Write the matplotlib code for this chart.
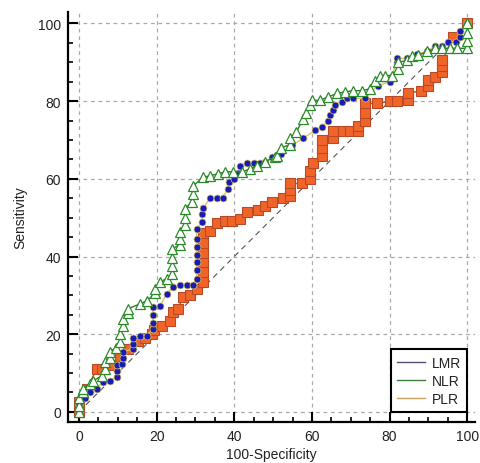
import matplotlib
matplotlib.use("Agg")
import matplotlib.pyplot as plt
from matplotlib.lines import Line2D
from matplotlib.ticker import MultipleLocator

plt.rcParams['font.family'] = ['Liberation Sans', 'DejaVu Sans']

# ROC points (100-Specificity, Sensitivity)
lmr_x = [0, 0, 1.5, 2.8, 4.6, 6.2, 8, 9.8, 9.8, 9.8, 11, 11.3, 11.3, 14, 14, 14, 15.7, 17.5,
         19, 19, 19, 19, 20.9, 22.6, 24.3, 26, 27.8, 29.4, 30.3, 30.3, 30.3, 30.3, 30.3, 30.3, 30.3,
         31.7, 31.7, 32, 33.8, 35.5, 37, 38.4, 38.7, 40, 41, 41.5, 43.3, 45, 46.6, 48, 49.7,
         52, 54.8, 57.7, 60.8, 62.6, 64.2, 64.7, 65.5, 66, 67.7, 69, 70.7, 73.7, 77, 80, 81.9,
         81.9, 84.5, 87, 89.7, 91.8, 93.6, 95, 97, 98.2, 98.2, 100]
lmr_y = [0, 2, 3.5, 5, 6, 7.7, 8, 9, 10.5, 12, 12.4, 14, 15.5, 16.2, 17.5, 19, 19.6, 19.6,
         21.4, 23, 25, 27, 27.3, 30.4, 32.2, 32.7, 32.7, 32.7, 34.3, 36.5, 38.5, 40.5, 42.5, 44.5, 47,
         49, 51, 52.5, 55, 55, 55, 57.5, 59.3, 60, 61.5, 63.4, 64, 64.2, 64.2, 64.4, 65.5,
         66.5, 68.6, 70.4, 72.5, 73.4, 75, 76.4, 77.7, 79, 79.8, 80.7, 80.7, 80.7, 84, 85, 90.2,
         91, 91, 92.2, 92.8, 94.3, 94.3, 95.3, 95.3, 96.5, 98, 100]

nlr_x = [0, 0, 0, 1, 1, 2.8, 3.6, 6, 6.7, 6.7, 8, 8, 9.5, 10.6, 10.6, 11.3, 11.3, 12.6, 12.6,
         15.7, 17.5, 19.6, 19.6, 20.9, 22.6, 24, 24, 24, 24, 26, 26, 26, 27.3, 27.3, 27.3, 29,
         29.4, 29.4, 32, 33.8, 35.8, 37.6, 39.7, 42, 44, 45.9, 48, 50.5, 51, 52, 54.4, 54.4, 56,
         57.7, 58.5, 59.5, 60, 62, 64.2, 66.5, 68.6, 70.6, 72.9, 75, 76.3, 77.6, 78.9, 80.6,
         82.2, 82.2, 84.5, 85.8, 87.4, 89.7, 91.8, 93.6, 95.6, 97.4, 100, 100, 100, 100]
nlr_y = [0, 1.5, 3.5, 5, 6, 7.2, 8, 9.3, 11, 12.9, 14, 15.5, 16.5, 18, 20, 22, 24, 25.5, 26.5,
         27.8, 28.6, 30.5, 31.7, 33.5, 34.3, 35.5, 37.5, 39.5, 42, 43, 44.5, 46.4, 48, 50, 52.3, 54,
         56, 58.2, 60.4, 60.8, 61.3, 61.8, 61.8, 61.8, 62.5, 63.4, 64.4, 65.7, 66, 68, 68.8, 70.4, 72,
         75.5, 77, 79, 80.2, 80.2, 81.1, 82, 82.4, 82.7, 82.7, 83.2, 85.3, 86.6, 86.6, 86.6,
         88.4, 90, 90.5, 91.5, 91.8, 92.8, 93.6, 93.6, 93.6, 93.6, 93.6, 95.5, 97.5, 100]

plr_x = [0, 0, 2, 4.6, 6, 8, 10.6, 12.6, 15.2, 17, 18.8, 19.4, 21.4, 23.4, 24.3, 25.5, 26.8,
         28.6, 30.4, 32, 32, 32, 32, 32, 32, 33.8, 35.5, 37.6, 39.4, 41.5, 43.3, 46, 48, 49.7,
         52.6, 54.4, 54.4, 54.4, 57.5, 59.5, 59.5, 60.3, 62.6, 62.6, 62.6, 65.5, 65.5, 68, 69.8,
         71.9, 71.9, 73.7, 73.7, 73.7, 76.7, 80.2, 81.9, 84.8, 84.8, 88, 90, 90, 91.8, 93.6,
         93.6, 93.6, 96.4, 100]
plr_y = [0, 2.5, 6, 11, 11, 12, 14.4, 16.2, 18.3, 19, 20, 21, 22, 23.5, 25.8, 26.5, 29.6,
         30, 31.7, 33.5, 36, 38.5, 41, 43.5, 46, 46.6, 48.5, 49.2, 49.2, 49.7, 51.5, 52, 53, 54,
         55, 55.5, 57, 58.8, 58.8, 60, 62, 64, 66, 68, 70, 70.5, 72.4, 72.4, 72.4,
         72.4, 73.7, 75, 77, 79.4, 79.4, 80, 80, 80.4, 82, 82.7, 84, 85.5, 86.3, 87.5,
         89, 90.5, 96.6, 100]

labels = ["LMR", "NLR", "PLR"]

fig = plt.figure(figsize=(4.8, 4.64), dpi=100)
ax = fig.add_axes([0.1417, 0.0884, 0.848, 0.884])

# grid and diagonal
for v in range(0, 101, 20):
    ax.axvline(v, color='#aaaaaa', lw=0.9, ls=(0, (3, 3)), zorder=0)
    ax.axhline(v, color='#aaaaaa', lw=0.9, ls=(0, (3, 3)), zorder=0)
ax.plot([0, 100], [0, 100], color='#555555', lw=0.8, ls=(0, (5, 4)), zorder=1)

# curves
ax.plot(plr_x, plr_y, color='#c04a20', lw=1, marker='s', ms=6.5,
        mfc='#f06428', mec='#b84a2a', mew=0.8, zorder=2)
ax.plot(lmr_x, lmr_y, color='#d8c860', lw=1, marker='o', ms=5,
        mfc='#1a1ab8', mec='#d8c860', mew=0.5, zorder=3)
ax.plot(nlr_x, nlr_y, color='#2e7a2e', lw=1, marker='^', ms=7.5,
        mfc='white', mec='#2a8a2a', mew=0.9, zorder=4)

ax.set_xlim(-2.8, 102)
ax.set_ylim(-2.6, 103)
ax.xaxis.set_major_locator(MultipleLocator(20))
ax.yaxis.set_major_locator(MultipleLocator(20))
ax.xaxis.set_minor_locator(MultipleLocator(5))
ax.yaxis.set_minor_locator(MultipleLocator(5))
ax.tick_params(which='major', direction='in', length=7, width=1.5, labelsize=10,
               labelcolor='#222222', pad=5)
ax.tick_params(which='minor', direction='in', length=3.5, width=1.2)
for s in ['top', 'right']:
    ax.spines[s].set_visible(False)
for s in ['left', 'bottom']:
    ax.spines[s].set_linewidth(1.6)

ax.set_xlabel("100-Specificity", fontsize=10, color='#222222', labelpad=3)
ax.set_ylabel("Sensitivity", fontsize=10, color='#222222', labelpad=8)

handles = [Line2D([0], [0], color='#505070', lw=1),
           Line2D([0], [0], color='#3d7d3d', lw=1),
           Line2D([0], [0], color='#c8a060', lw=1)]
leg = ax.legend(handles, labels, loc='lower right', bbox_to_anchor=(0.98, 0.024),
                borderaxespad=0, fontsize=10, fancybox=False, framealpha=1,
                handlelength=2.0, handletextpad=0.45, labelspacing=0.3, borderpad=0.45)
leg.get_frame().set_edgecolor('black')
leg.get_frame().set_linewidth(1.5)
for t in leg.get_texts():
    t.set_color('#222222')

fig.savefig("out.png", dpi=100)
